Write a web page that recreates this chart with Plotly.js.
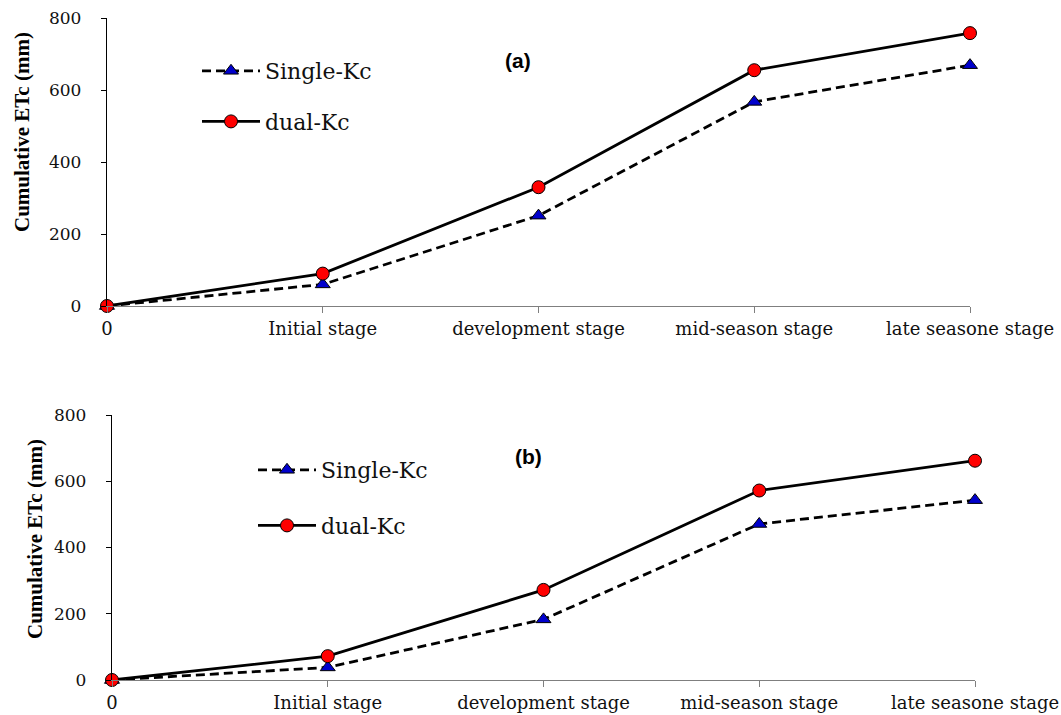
<!DOCTYPE html>
<html>
<head>
<meta charset="utf-8">
<script src="https://cdn.plot.ly/plotly-3.0.1.min.js"></script>
<style>html,body{margin:0;padding:0;background:#fff;}#chart{width:1061px;height:715px;}</style>
</head>
<body>
<div id="chart"></div>
<script>
var stages = ["0", "Initial stage", "development stage", "mid-season stage", "late seasone stage"];
var yTicks = [0, 200, 400, 600, 800];

// Panel (a)
var singleKcA = [0, 60, 251, 567, 669];
var dualKcA = [0, 90, 330, 655, 758];

// Panel (b)
var singleKcB = [0, 38, 183, 471, 543];
var dualKcB = [0, 72, 272, 572, 662];

var serif = "DejaVu Serif, Liberation Serif, serif";

function singleTrace(y, xa, ya, leg) {
  return {
    x: stages, y: y, xaxis: xa, yaxis: ya, type: "scatter", mode: "lines+markers",
    name: "Single-Kc", legend: leg, legendgroup: leg + "s",
    line: {color: "#000", width: 2.8, dash: "9px,5px"},
    marker: {symbol: "triangle-up", size: 13, color: "#0000cc", line: {color: "#000", width: 1}},
    cliponaxis: false
  };
}
function dualTrace(y, xa, ya, leg) {
  return {
    x: stages, y: y, xaxis: xa, yaxis: ya, type: "scatter", mode: "lines+markers",
    name: "dual-Kc", legend: leg, legendgroup: leg + "d",
    line: {color: "#000", width: 2.8},
    marker: {symbol: "circle", size: 13, color: "#ff0000", line: {color: "#000", width: 1}},
    cliponaxis: false
  };
}

var traces = [
  singleTrace(singleKcA, "x", "y", "legend"),
  dualTrace(dualKcA, "x", "y", "legend"),
  singleTrace(singleKcB, "x2", "y2", "legend2"),
  dualTrace(dualKcB, "x2", "y2", "legend2")
];

function xAxis(dom, anchor) {
  return {
    domain: dom, anchor: anchor, type: "category", range: [0, 4],
    showgrid: false, zeroline: false, showline: true, linecolor: "#7f7f7f", linewidth: 1.2,
    ticks: "outside", ticklen: 6, tickcolor: "#7f7f7f", tickwidth: 1,
    tickfont: {family: serif, size: 18, color: "#111"}, automargin: false, fixedrange: true
  };
}
function yAxis(dom, anchor) {
  return {
    domain: dom, anchor: anchor, range: [0, 800], tickvals: yTicks,
    showgrid: false, zeroline: false, showline: true, linecolor: "#000", linewidth: 1.2,
    ticks: "outside", ticklen: 5, tickcolor: "#000", tickwidth: 1, ticklabelstandoff: 16,
    tickfont: {family: serif, size: 17, color: "#111"}, automargin: false, fixedrange: true
  };
}

var layout = {
  width: 1061, height: 715,
  margin: {l: 0, r: 0, t: 0, b: 0},
  paper_bgcolor: "#fff", plot_bgcolor: "#fff",
  showlegend: true,
  xaxis: xAxis([107 / 1061, 970 / 1061], "y"),
  yaxis: yAxis([1 - 306 / 715, 1 - 18 / 715], "x"),
  xaxis2: xAxis([112 / 1061, 975 / 1061], "y2"),
  yaxis2: yAxis([1 - 680 / 715, 1 - 415 / 715], "x2"),
  legend: {
    x: 197 / 1061, y: 1 - 50 / 715, xanchor: "left", yanchor: "top",
    bgcolor: "rgba(0,0,0,0)", traceorder: "grouped", tracegroupgap: 19,
    itemwidth: 58, font: {family: serif, size: 22, color: "#111"}
  },
  legend2: {
    x: 253 / 1061, y: 1 - 449 / 715, xanchor: "left", yanchor: "top",
    bgcolor: "rgba(0,0,0,0)", traceorder: "grouped", tracegroupgap: 24,
    itemwidth: 58, font: {family: serif, size: 22, color: "#111"}
  },
  annotations: [
    {text: "<b>(a)</b>", xref: "paper", yref: "paper", x: 518 / 1061, y: 1 - 60 / 715,
     xanchor: "center", yanchor: "middle",
     showarrow: false, font: {family: "Liberation Sans, Arial, sans-serif", size: 21, color: "#000"}},
    {text: "<b>(b)</b>", xref: "paper", yref: "paper", x: 528 / 1061, y: 1 - 456 / 715,
     xanchor: "center", yanchor: "middle",
     showarrow: false, font: {family: "Liberation Sans, Arial, sans-serif", size: 21, color: "#000"}},
    {text: "<b>Cumulative ETc (mm)</b>", xref: "paper", yref: "paper", x: 22 / 1061, y: 1 - 132 / 715,
     xanchor: "center", yanchor: "middle",
     textangle: -90, showarrow: false, font: {family: "Liberation Serif, Times New Roman, serif", size: 21, color: "#000"}},
    {text: "<b>Cumulative ETc (mm)</b>", xref: "paper", yref: "paper", x: 35 / 1061, y: 1 - 539 / 715,
     xanchor: "center", yanchor: "middle",
     textangle: -90, showarrow: false, font: {family: "Liberation Serif, Times New Roman, serif", size: 21, color: "#000"}}
  ]
};

Plotly.newPlot("chart", traces, layout, {displayModeBar: false, staticPlot: true});
</script>
</body>
</html>
